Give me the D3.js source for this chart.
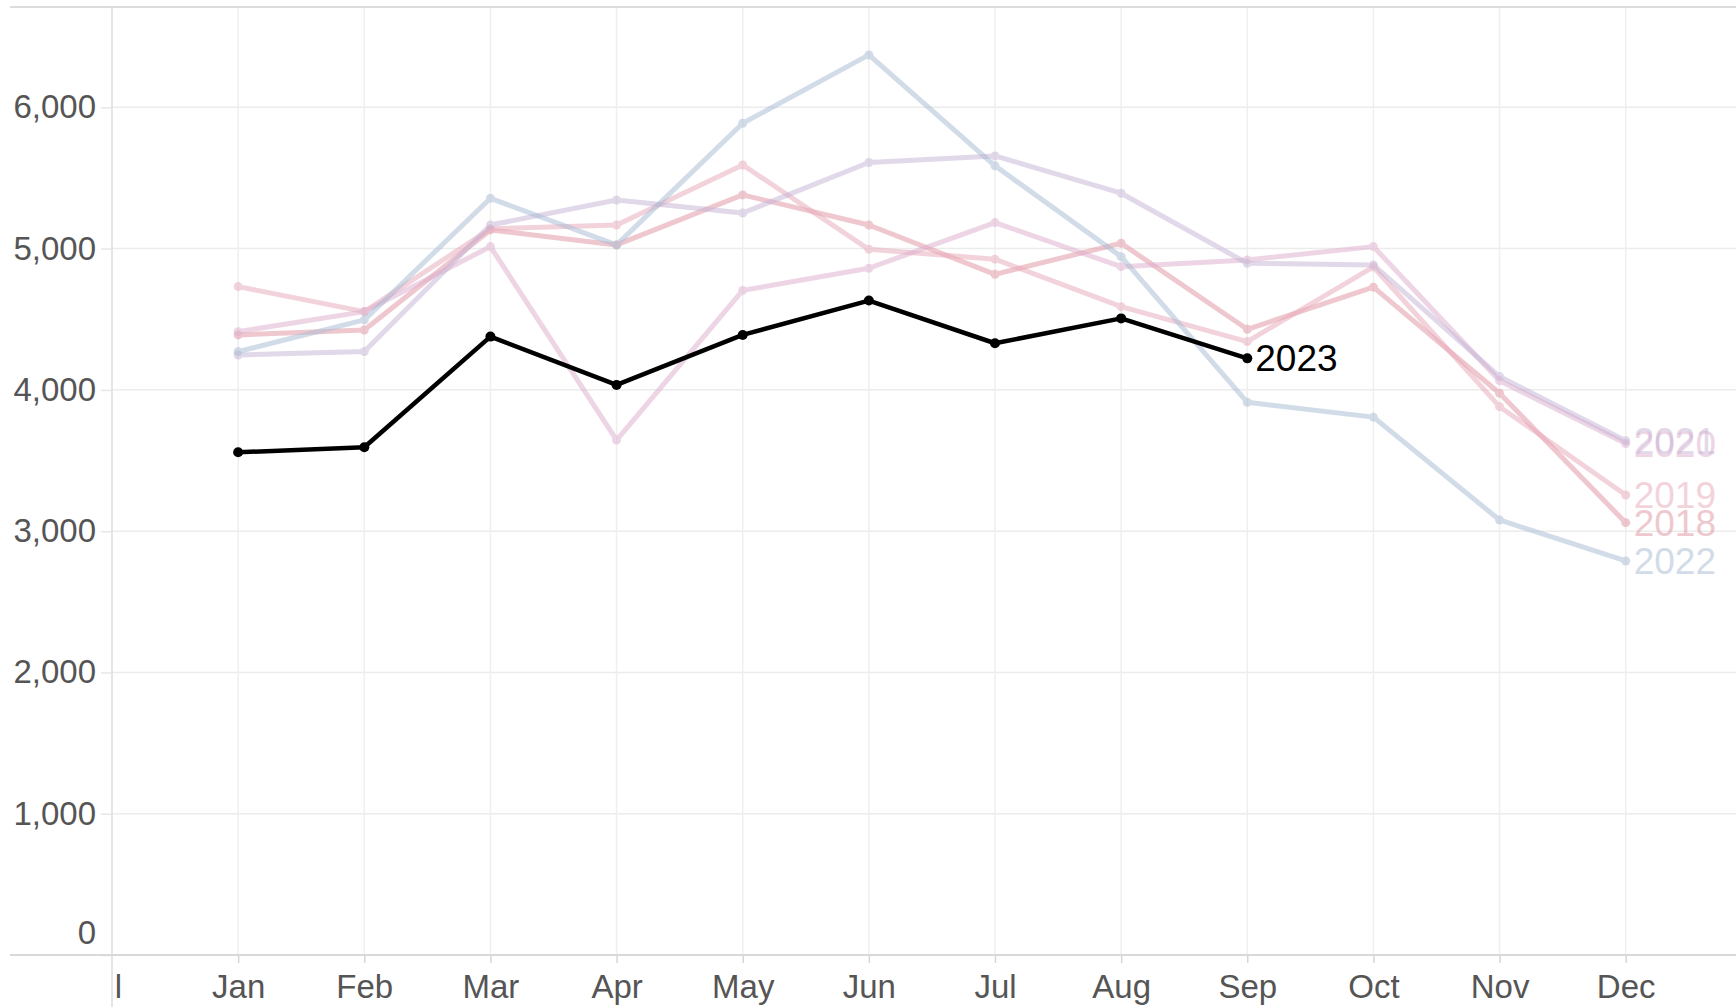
<!DOCTYPE html>
<html>
<head>
<meta charset="utf-8">
<script src="https://cdn.jsdelivr.net/npm/d3@7"></script>
<style>
  html, body { margin: 0; padding: 0; background: #fff; }
  svg { display: block; font-family: "Liberation Sans", Arial, sans-serif; }
</style>
</head>
<body>
<div id="chart"></div>
<script>
(function () {
    // Data
    var months = ['Jan', 'Feb', 'Mar', 'Apr', 'May', 'Jun', 'Jul', 'Aug', 'Sep', 'Oct', 'Nov', 'Dec'];
    var yTicks = [0, 1000, 2000, 3000, 4000, 5000, 6000];

    var v2018 = [4389, 4424, 5132, 5026, 5380, 5167, 4818, 5038, 4429, 4727, 3976, 3060];
    var v2019 = [4731, 4554, 5140, 5167, 5592, 4995, 4925, 4589, 4342, 4870, 3881, 3256];
    var v2020 = [4412, 4554, 5014, 3645, 4704, 4861, 5184, 4872, 4920, 5014, 4065, 3620];
    var v2021 = [4247, 4271, 5167, 5344, 5252, 5609, 5656, 5392, 4896, 4884, 4094, 3640];
    var v2022 = [4271, 4495, 5356, 5026, 5887, 6371, 5586, 4943, 3912, 3807, 3079, 2789];
    var v2023 = [3558, 3594, 4377, 4035, 4389, 4632, 4330, 4506, 4223];

    // Faded colours for past years (drawn at half opacity)
    var series = [
        { year: '2018', values: v2018, color: 'rgb(225,147,161)' },
        { year: '2019', values: v2019, color: 'rgb(233,169,185)' },
        { year: '2020', values: v2020, color: 'rgb(221,173,205)' },
        { year: '2021', values: v2021, color: 'rgb(197,179,213)' },
        { year: '2022', values: v2022, color: 'rgb(167,187,211)' }
    ];

    var W = 1736, H = 1007;
    var AXIS_X = 112, AXIS_Y = 955, TOP = 7, LEFT_EDGE = 10;
    var FADED_OPACITY = 0.5;
    var LABEL_FONT = 37;
    var TICK_FONT = 33;

    var svg = d3.select('#chart').append('svg')
        .attr('width', W)
        .attr('height', H)
        .attr('viewBox', [0, 0, W, H]);

    var x = d3.scalePoint()
        .domain(['l'].concat(months))
        .range([AXIS_X, 1625.7]);

    var y = d3.scaleLinear()
        .domain([0, 6710])
        .range([AXIS_Y, TOP]);

    // Grid: horizontal then vertical
    var grid = svg.append('g').attr('class', 'grid');
    grid.selectAll('line.h')
        .data(yTicks.filter(function (d) { return d > 0; }))
        .join('line')
        .attr('class', 'h')
        .attr('x1', AXIS_X).attr('x2', W)
        .attr('y1', function (d) { return y(d); })
        .attr('y2', function (d) { return y(d); })
        .attr('stroke', '#ececec').attr('stroke-width', 1.5);
    grid.selectAll('line.v')
        .data(months)
        .join('line')
        .attr('class', 'v')
        .attr('x1', function (d) { return x(d); })
        .attr('x2', function (d) { return x(d); })
        .attr('y1', TOP).attr('y2', AXIS_Y)
        .attr('stroke', '#efefef').attr('stroke-width', 1.5);

    // Frame lines
    svg.append('line')
        .attr('x1', LEFT_EDGE).attr('x2', W).attr('y1', TOP).attr('y2', TOP)
        .attr('stroke', '#dcdcdc').attr('stroke-width', 2);
    svg.append('line')
        .attr('x1', AXIS_X).attr('x2', AXIS_X).attr('y1', TOP).attr('y2', H)
        .attr('stroke', '#dcdcdc').attr('stroke-width', 1.5);

    // Y axis
    var yAxis = svg.append('g')
        .attr('transform', 'translate(' + AXIS_X + ',0)')
        .call(d3.axisLeft(y)
            .tickValues(yTicks)
            .tickSize(11)
            .tickPadding(5)
            .tickFormat(d3.format(',')));
    yAxis.select('.domain').remove();
    yAxis.selectAll('.tick line').attr('stroke', '#e6e6e6').attr('stroke-width', 1.5);
    yAxis.selectAll('.tick text')
        .attr('fill', '#555')
        .style('font-size', TICK_FONT + 'px')
        .style('font-family', '"Liberation Sans", Arial, sans-serif');
    // zero label sits above the baseline axis
    yAxis.selectAll('.tick')
        .filter(function (d) { return d === 0; })
        .select('text')
        .attr('y', -22);

    // X axis
    var xAxis = svg.append('g')
        .attr('transform', 'translate(0,' + AXIS_Y + ')')
        .call(d3.axisBottom(x).tickSize(8).tickPadding(12));
    xAxis.select('.domain').remove();
    xAxis.selectAll('.tick line').attr('stroke', '#d6d6d6').attr('stroke-width', 1.5);
    xAxis.selectAll('.tick text')
        .attr('fill', '#555')
        .style('font-size', TICK_FONT + 'px')
        .style('font-family', '"Liberation Sans", Arial, sans-serif');
    xAxis.selectAll('.tick')
        .filter(function (d) { return d === 'l'; })
        .select('text')
        .attr('dx', 6);
    xAxis.selectAll('.tick')
        .filter(function (d) { return d === 'l'; })
        .select('line').remove();

    svg.append('line')
        .attr('x1', LEFT_EDGE).attr('x2', W).attr('y1', AXIS_Y).attr('y2', AXIS_Y)
        .attr('stroke', '#d9d9d9').attr('stroke-width', 2);

    var line = d3.line()
        .x(function (d, i) { return x(months[i]); })
        .y(function (d) { return y(d); });

    // Past years
    var past = svg.append('g').attr('class', 'past');
    series.forEach(function (s) {
        var g = past.append('g').attr('opacity', FADED_OPACITY);
        g.append('path')
            .datum(s.values)
            .attr('d', line)
            .attr('fill', 'none')
            .attr('stroke', s.color)
            .attr('stroke-width', 5)
            .attr('stroke-linejoin', 'round');
        g.selectAll('circle')
            .data(s.values)
            .join('circle')
            .attr('cx', function (d, i) { return x(months[i]); })
            .attr('cy', function (d) { return y(d); })
            .attr('r', 4.5)
            .attr('fill', s.color);
        var last = s.values.length - 1;
        g.append('text')
            .attr('x', x(months[last]) + 8)
            .attr('y', y(s.values[last]))
            .attr('dy', '0.35em')
            .attr('fill', s.color)
            .style('font-size', LABEL_FONT + 'px')
            .text(s.year);
    });

    // Current year
    var cur = svg.append('g').attr('class', 'current');
    cur.append('path')
        .datum(v2023)
        .attr('d', line)
        .attr('fill', 'none')
        .attr('stroke', '#000')
        .attr('stroke-width', 4.5)
        .attr('stroke-linejoin', 'round');
    cur.selectAll('circle')
        .data(v2023)
        .join('circle')
        .attr('cx', function (d, i) { return x(months[i]); })
        .attr('cy', function (d) { return y(d); })
        .attr('r', 5)
        .attr('fill', '#000');
    var lastCur = v2023.length - 1;
    cur.append('text')
        .attr('x', x(months[lastCur]) + 8)
        .attr('y', y(v2023[lastCur]))
        .attr('dy', '0.35em')
        .attr('fill', '#000')
        .style('font-size', LABEL_FONT + 'px')
        .text('2023');
}());
</script>
</body>
</html>
